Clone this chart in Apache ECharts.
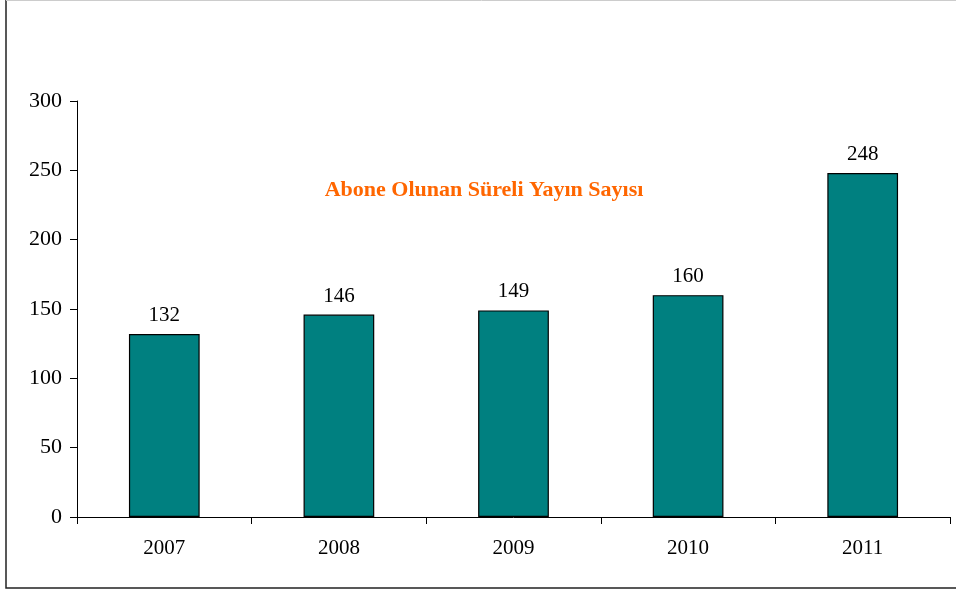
<!DOCTYPE html>
<html>
<head>
<meta charset="utf-8">
<script src="https://cdn.jsdelivr.net/npm/echarts@6/dist/echarts.min.js"></script>
<style>
  html, body { margin: 0; padding: 0; background: #fff; overflow: hidden; }
  #chart { width: 956px; height: 594px; }
</style>
</head>
<body>
<div id="chart"></div>
<script>
  // Abone olunan süreli yayın sayısı, yıllara göre
  const YEARS = ['2007', '2008', '2009', '2010', '2011'];
  const COUNTS = [132, 146, 149, 160, 248];
  const TITLE = 'Abone Olunan Süreli Yayın Sayısı';

  const FONT = '"Liberation Serif", "DejaVu Serif", serif';

  const chart = echarts.init(document.getElementById('chart'));
  chart.setOption({
    animation: false,
    title: {
      text: TITLE,
      left: 479,
      top: 174,
      textAlign: 'center',
      textStyle: { color: '#ff6600', fontFamily: FONT, fontSize: 22, fontWeight: 'bold' }
    },
    graphic: [
      {
        type: 'polyline',
        shape: { points: [[6, 0], [6, 588], [1000, 588]] },
        style: { fill: 'none', stroke: '#222', lineWidth: 1.5 },
        silent: true
      },
      {
        type: 'line',
        shape: { x1: 6, y1: 0.5, x2: 1000, y2: 0.5 },
        style: { stroke: '#ccc', lineWidth: 1 },
        silent: true
      }
    ],
    grid: { left: 77, right: 6, top: 101, bottom: 77 },
    xAxis: {
      type: 'category',
      data: YEARS,
      axisLine: { lineStyle: { color: '#000', width: 1 } },
      axisTick: { show: true, length: 7, lineStyle: { color: '#000' } },
      axisLabel: { color: '#000', fontFamily: FONT, fontSize: 21, margin: 21 }
    },
    yAxis: {
      type: 'value',
      min: 0,
      max: 300,
      interval: 50,
      axisLine: { show: true, lineStyle: { color: '#000', width: 1 } },
      axisTick: { show: true, length: 7, lineStyle: { color: '#000' } },
      axisLabel: { color: '#000', fontFamily: FONT, fontSize: 22, margin: 15 },
      splitLine: { show: false }
    },
    series: [{
      type: 'bar',
      data: COUNTS,
      barWidth: '40.5%',
      itemStyle: { color: '#008080', borderColor: '#000', borderWidth: 1.2 },
      label: {
        show: true,
        position: 'top',
        distance: 8,
        color: '#000',
        fontFamily: FONT,
        fontSize: 21
      }
    }]
  });
</script>
</body>
</html>
